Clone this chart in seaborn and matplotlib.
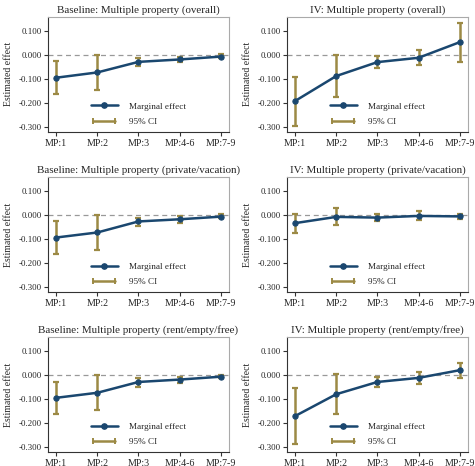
import numpy as np
import pandas as pd
import matplotlib
matplotlib.use("Agg")
import matplotlib.pyplot as plt
import seaborn as sns
from matplotlib.lines import Line2D
from matplotlib.legend_handler import HandlerLine2D

# ---------------- Data ----------------
categories = ["MP:1", "MP:2", "MP:3", "MP:4-6", "MP:7-9"]

titles = [
    "Baseline: Multiple property (overall)",
    "IV: Multiple property (overall)",
    "Baseline: Multiple property (private/vacation)",
    "IV: Multiple property (private/vacation)",
    "Baseline: Multiple property (rent/empty/free)",
    "IV: Multiple property (rent/empty/free)",
]

base_overall = [-0.094, -0.072, -0.028, -0.018, -0.006]
base_overall_lo = [-0.160, -0.144, -0.046, -0.030, -0.012]
base_overall_hi = [-0.026, 0.001, -0.010, -0.006, 0.004]

iv_overall = [-0.191, -0.087, -0.029, -0.011, 0.054]
iv_overall_lo = [-0.296, -0.176, -0.055, -0.043, -0.028]
iv_overall_hi = [-0.089, 0.000, -0.003, 0.021, 0.136]

base_private = [-0.093, -0.072, -0.026, -0.017, -0.006]
base_private_lo = [-0.161, -0.144, -0.046, -0.031, -0.012]
base_private_hi = [-0.026, 0.001, -0.010, -0.004, 0.003]

iv_private = [-0.033, -0.007, -0.010, -0.003, -0.005]
iv_private_lo = [-0.074, -0.040, -0.026, -0.022, -0.017]
iv_private_hi = [0.004, 0.028, 0.004, 0.017, 0.007]

base_rent = [-0.094, -0.073, -0.028, -0.018, -0.006]
base_rent_lo = [-0.161, -0.146, -0.047, -0.031, -0.012]
base_rent_hi = [-0.028, 0.000, -0.010, -0.006, 0.003]

iv_rent = [-0.170, -0.079, -0.028, -0.011, 0.021]
iv_rent_lo = [-0.288, -0.163, -0.049, -0.037, -0.010]
iv_rent_hi = [-0.054, 0.006, -0.008, 0.013, 0.053]

panels = [
    (base_overall, base_overall_lo, base_overall_hi),
    (iv_overall, iv_overall_lo, iv_overall_hi),
    (base_private, base_private_lo, base_private_hi),
    (iv_private, iv_private_lo, iv_private_hi),
    (base_rent, base_rent_lo, base_rent_hi),
    (iv_rent, iv_rent_lo, iv_rent_hi),
]

# ---------------- Style ----------------
sns.set_theme(style="ticks")
plt.rcParams["font.family"] = ["Liberation Serif", "DejaVu Serif"]

navy = "#1a476f"
gold = "#9c8a45"

fig, axes = plt.subplots(3, 2, figsize=(4.75, 4.66), dpi=100)
fig.subplots_adjust(left=0.101, right=0.985, top=0.964, bottom=0.030,
                    wspace=0.32, hspace=0.39)

for ax, title, (est, lo, hi) in zip(axes.flat, titles, panels):
    df = pd.DataFrame({"cat": categories, "est": est, "lo": lo, "hi": hi})
    x = np.arange(len(categories))

    ax.axhline(0, color="#999999", lw=0.9, ls=(0, (4, 3)), zorder=1)
    ax.errorbar(x, df["est"], yerr=[df["est"] - df["lo"], df["hi"] - df["est"]],
                fmt="none", ecolor=gold, elinewidth=1.8, capsize=2.5,
                capthick=1.6, zorder=2)
    sns.lineplot(data=df, x="cat", y="est", ax=ax, color=navy, lw=1.8,
                 marker="o", markersize=3.8, markeredgecolor=navy,
                 sort=False, zorder=3)

    ax.set_xlim(-0.2, 4.2)
    ax.set_ylim(-0.32, 0.16)
    ax.set_yticks([0.1, 0.0, -0.1, -0.2, -0.3])
    ax.set_yticklabels(["0.100", "0.000", "-0.100", "-0.200", "-0.300"])
    ax.set_xticks(x)
    ax.set_xticklabels(categories)
    ax.set_xlabel("")
    ax.set_ylabel("Estimated effect", fontsize=7, labelpad=4)
    ax.set_title(title, fontsize=7.9, pad=3)
    ax.tick_params(axis="x", labelsize=7.2, length=3, width=0.8,
                   color="#333333", pad=2)
    ax.tick_params(axis="y", labelsize=6.4, length=3, width=0.8,
                   color="#333333", pad=1.5)

    for s in ["left", "bottom"]:
        ax.spines[s].set_color("#333333")
        ax.spines[s].set_linewidth(0.8)
    for s in ["top", "right"]:
        ax.spines[s].set_color("#aaaaaa")
        ax.spines[s].set_linewidth(0.8)

    h_eff = Line2D([], [], color=navy, lw=1.8, marker="o", markersize=3.8)
    h_ci = Line2D([], [], color=gold, lw=1.8, marker="|", markersize=4.5,
                  markeredgewidth=1.4)
    ax.legend([h_eff, h_ci], ["Marginal effect", "95% CI"],
              handler_map={h_eff: HandlerLine2D(numpoints=1),
                           h_ci: HandlerLine2D(numpoints=2)},
              loc="lower center", bbox_to_anchor=(0.5, 0.0), frameon=False,
              fontsize=6.6, handlelength=3.0, handletextpad=1.2,
              labelspacing=0.75, borderpad=0.15)

plt.savefig("out.png", dpi=100)
